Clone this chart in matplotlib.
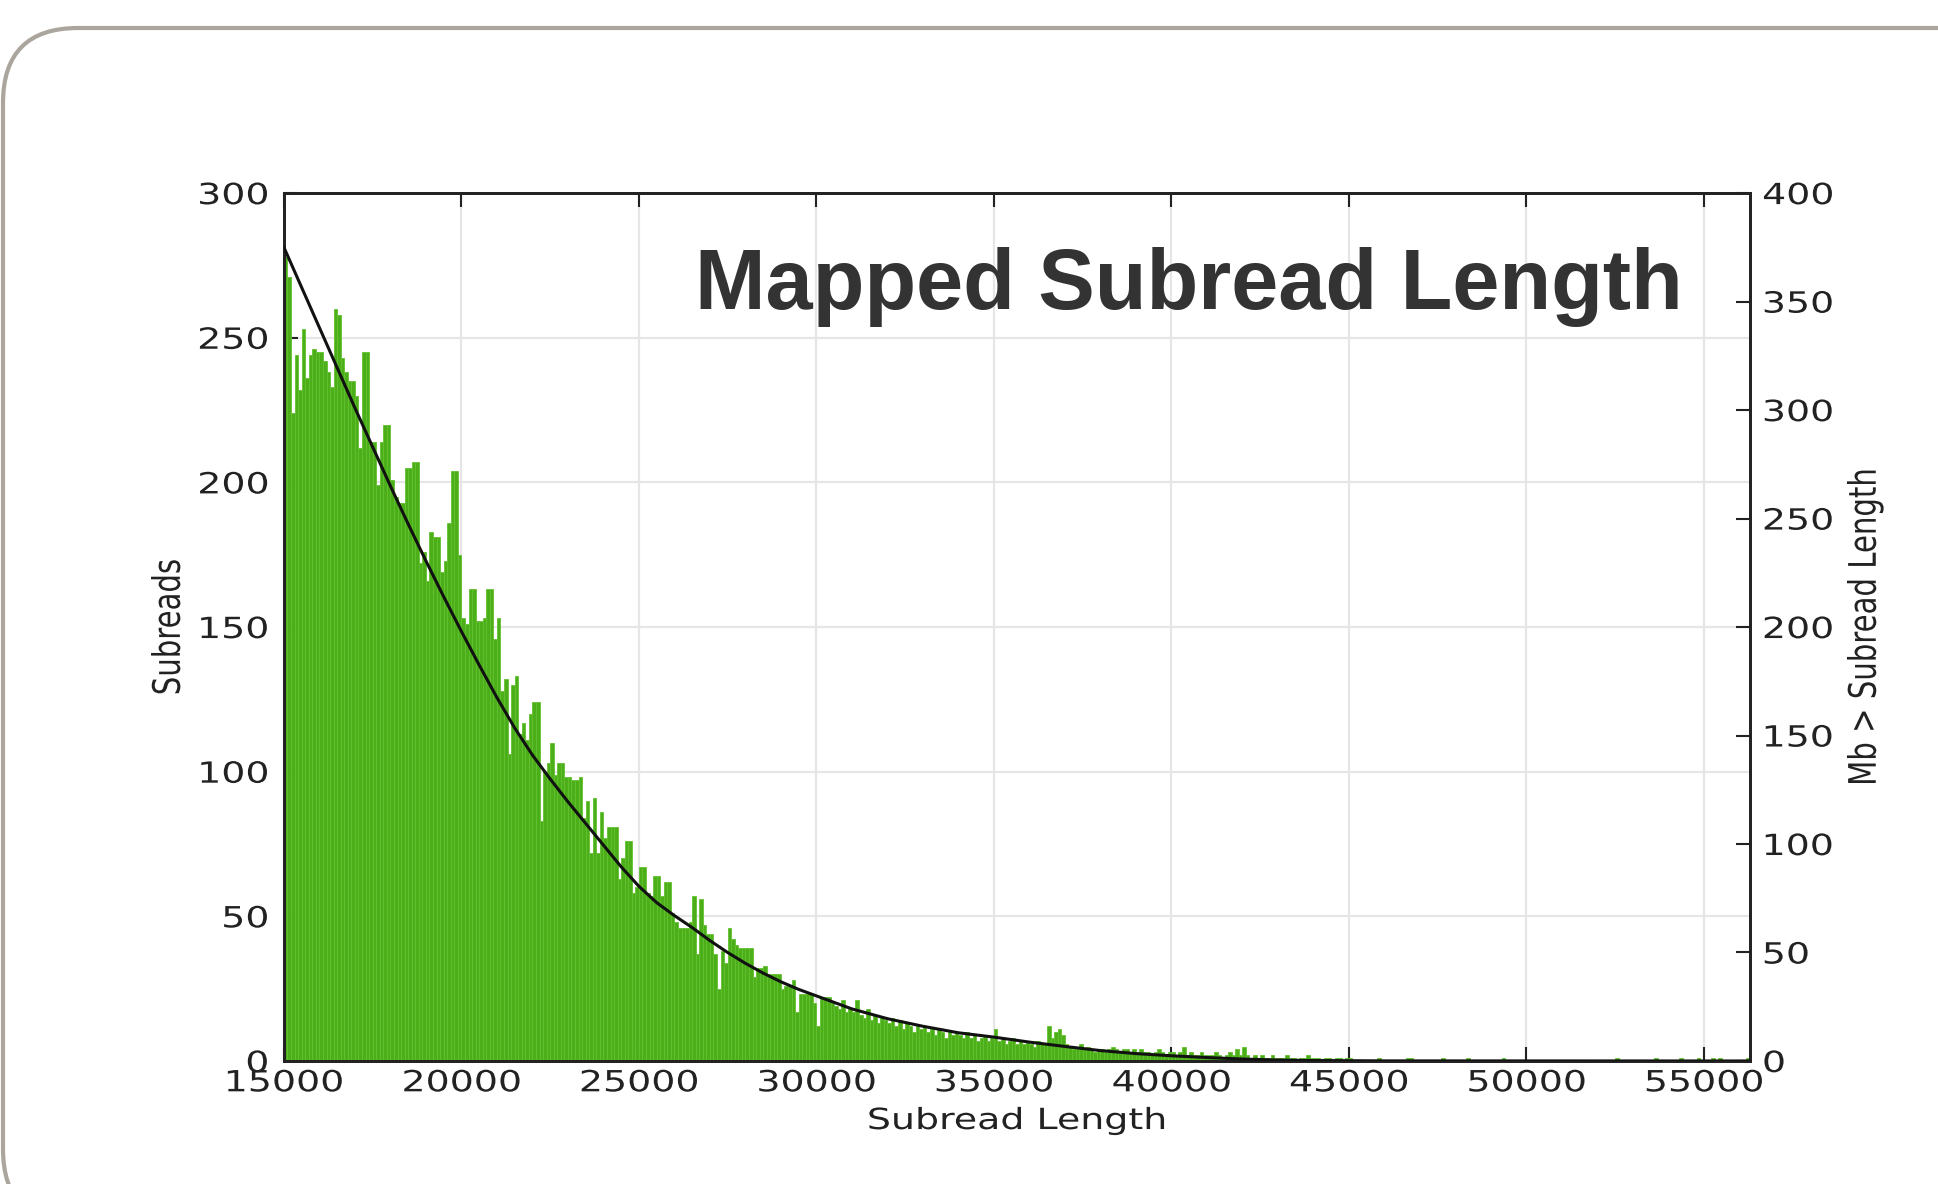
import numpy as np
import matplotlib
matplotlib.use("Agg")
import matplotlib.pyplot as plt
from matplotlib.patches import FancyBboxPatch
from matplotlib.patheffects import AbstractPathEffect
from matplotlib.transforms import IdentityTransform, Affine2D

# ---- data ----------------------------------------------------------------- #
BIN_START = 15000
BIN_WIDTH = 100

# subreads per 100 bp bin, one row per 1000 bp
subreads = [
    278, 271, 224, 244, 232, 253, 236, 244, 246, 245,   # 15000
    245, 242, 238, 233, 260, 258, 243, 238, 235, 235,   # 16000
    230, 212, 245, 245, 214, 214, 199, 214, 220, 220,   # 17000
    201, 195, 193, 193, 205, 205, 207, 207, 172, 176,   # 18000
    166, 183, 181, 181, 169, 173, 186, 204, 204, 175,   # 19000
    153, 151, 163, 163, 152, 152, 153, 163, 163, 146,   # 20000
    153, 128, 132, 106, 130, 133, 113, 117, 111, 120,   # 21000
    124, 124, 83, 100, 103, 110, 99, 103, 103, 98,      # 22000
    98, 97, 97, 98, 84, 90, 72, 91, 72, 86,             # 23000
    77, 81, 81, 81, 63, 70, 76, 76, 58, 60,             # 24000
    67, 67, 58, 57, 64, 64, 57, 62, 62, 51,             # 25000
    48, 46, 46, 46, 48, 57, 37, 56, 47, 44,             # 26000
    44, 37, 25, 38, 34, 46, 42, 40, 39, 39,             # 27000
    39, 39, 29, 32, 32, 33, 30, 30, 30, 30,             # 28000
    25, 26, 26, 28, 17, 23, 23, 23, 23, 20,             # 29000
    12, 22, 22, 22, 20, 19, 18, 21, 17, 18,             # 30000
    17, 21, 16, 15, 18, 14, 16, 13, 15, 14,             # 31000
    13, 15, 12, 14, 11, 13, 12, 10, 12, 11,             # 32000
    12, 10, 11, 9, 11, 10, 8, 10, 9, 10,                # 33000
    9, 8, 10, 8, 9, 7, 8, 9, 7, 8,                      # 34000
    11, 7, 8, 6, 7, 8, 6, 7, 6, 7,                      # 35000
    6, 5, 7, 6, 6, 12, 8, 10, 11, 9,                    # 36000
    6, 5, 4, 5, 6, 4, 5, 4, 3, 4,                       # 37000
    4, 3, 4, 5, 4, 3, 4, 4, 3, 4,                       # 38000
    3, 4, 3, 3, 2, 3, 4, 3, 2, 3,                       # 39000
    3, 2, 3, 5, 2, 3, 2, 2, 3, 2,                       # 40000
    2, 2, 3, 2, 1, 2, 3, 2, 4, 2,                       # 41000
    5, 2, 1, 2, 1, 2, 1, 1, 2, 1,                       # 42000
    1, 1, 2, 1, 1, 0, 1, 1, 2, 1,                       # 43000
    1, 1, 0, 1, 1, 0, 1, 1, 0, 1,                       # 44000
    1, 0, 0, 0, 0, 0, 0, 0, 1, 0,                       # 45000
    0, 0, 0, 0, 0, 0, 1, 1, 0, 0,                       # 46000
    0, 0, 0, 0, 0, 0, 1, 0, 0, 0,                       # 47000
    0, 0, 0, 1, 0, 0, 0, 0, 0, 0,                       # 48000
    0, 0, 0, 1, 0, 0, 0, 0, 0, 0,                       # 49000
    0, 0, 0, 0, 0, 0, 0, 0, 0, 0,                       # 50000
    0, 0, 0, 0, 0, 0, 0, 0, 0, 0,                       # 51000
    0, 0, 0, 0, 0, 1, 0, 0, 0, 0,                       # 52000
    0, 0, 0, 0, 0, 0, 1, 0, 0, 0,                       # 53000
    0, 0, 0, 1, 0, 0, 0, 0, 1, 0,                       # 54000
    0, 0, 1, 0, 1, 0, 0, 0, 0, 0,                       # 55000
    0, 0, 1,                                            # 56000
]

# cumulative Mb of subreads longer than a given length (right axis)
mb_len = [15000, 15500, 16000, 16500, 17000, 17500, 18000, 18500, 19000, 19500,
          20000, 20500, 21000, 21500, 22000, 22500, 23000, 23500, 24000, 24500,
          25000, 25500, 26000, 26500, 27000, 27500, 28000, 28500, 29000, 29500,
          30000, 31000, 32000, 33000, 34000, 35000, 36000, 37000, 38000, 39000,
          40000, 41000, 42000, 43000, 44000, 46000, 56300]
mb_above = [375, 356.5, 338, 319.5, 301, 283, 265, 247.5, 230.5, 214,
            198, 182.5, 167.5, 153.5, 141, 130, 119.5, 109.5, 99.5, 89.5,
            80.5, 73, 67, 61.5, 55.5, 50, 45, 40.5, 36.5, 33,
            30, 24, 19.5, 16, 13, 11, 8.7, 6.7, 4.8, 3.4,
            2.4, 1.6, 0.9, 0.45, 0.2, 0.05, 0]

x_ticks = [15000, 20000, 25000, 30000, 35000, 40000, 45000, 50000, 55000]
left_ticks = [0, 50, 100, 150, 200, 250, 300]
right_ticks = [0, 50, 100, 150, 200, 250, 300, 350, 400]

TXT = "#222222"


class Stretch(AbstractPathEffect):
    """Widen text sideways -- the reference screenshot is stretched horizontally."""

    def __init__(self, sx=1.3, anchor="center"):
        super().__init__()
        self.sx = sx
        self.anchor = anchor

    def draw_path(self, renderer, gc, tpath, affine, rgbFace=None):
        bb = tpath.get_extents(affine)
        if self.anchor == "left":
            x0 = bb.x0
        elif self.anchor == "right":
            x0 = bb.x1
        else:
            x0 = 0.5 * (bb.x0 + bb.x1)
        widen = Affine2D().translate(-x0, 0).scale(self.sx, 1).translate(x0, 0)
        renderer.draw_path(gc, tpath, affine + widen, rgbFace)


# ---- figure ---------------------------------------------------------------- #
fig = plt.figure(figsize=(19.38, 11.84), dpi=100)
fig.patch.set_facecolor("white")

# rounded slide frame (pixel coordinates)
frame = FancyBboxPatch((3, -40), 2100, 1156 + 40, boxstyle="round,pad=0,rounding_size=75",
                       transform=IdentityTransform(), facecolor="none",
                       edgecolor="#aaa59d", linewidth=3, zorder=0)
fig.patches.append(frame)

ax = fig.add_axes([0.1465, 0.1039, 0.7565, 0.733])
edges = BIN_START + BIN_WIDTH * np.arange(len(subreads))
ax.bar(edges, subreads, width=BIN_WIDTH, align="edge", color="#4caf1a",
       edgecolor="#62c130", linewidth=0.6, zorder=2)

ax.set_xlim(15000, 56300)
ax.set_ylim(0, 300)
ax.set_xticks(x_ticks)
ax.set_yticks(left_ticks)
ax.grid(True, color="#e6e6e6", linewidth=1.6, zorder=0)
ax.set_axisbelow(True)
ax.tick_params(direction="in", length=10, width=1.5, labelsize=21,
               colors=TXT, top=True, right=False)
ax.tick_params(axis="x", pad=6)
ax.tick_params(axis="y", pad=11)
for s in ax.spines.values():
    s.set_linewidth(2)
    s.set_color(TXT)
ax.set_xlabel("Subread Length", fontsize=21, color=TXT, labelpad=7)
ax.set_ylabel("Subreads", fontsize=21, color=TXT, labelpad=22)

ax2 = ax.twinx()
ax2.plot(mb_len, mb_above, color="#111111", linewidth=2.2, zorder=3)
ax2.set_ylim(0, 400)
ax2.set_yticks(right_ticks)
ax2.tick_params(direction="in", length=10, width=1.5, labelsize=21,
                colors=TXT, pad=9)
for s in ax2.spines.values():
    s.set_linewidth(2)
    s.set_color(TXT)
ax2.set_ylabel("Mb > Subread Length", fontsize=21, color=TXT, labelpad=24)

# stretched look of the chart texts
for t in ax.get_xticklabels():
    t.set_path_effects([Stretch(1.3, "center")])
for t in ax.get_yticklabels():
    t.set_path_effects([Stretch(1.3, "right")])
for t in ax2.get_yticklabels():
    t.set_path_effects([Stretch(1.3, "left")])
for lab in (ax.xaxis.label, ax.yaxis.label, ax2.yaxis.label):
    lab.set_path_effects([Stretch(1.3, "center")])

fig.text(1683 / 1938, 1 - 309 / 1184, "Mapped Subread Length", ha="right",
         va="baseline", fontsize=61, fontweight="bold", color="#333333",
         family="Liberation Sans")

fig.savefig("out.png", dpi=100)
